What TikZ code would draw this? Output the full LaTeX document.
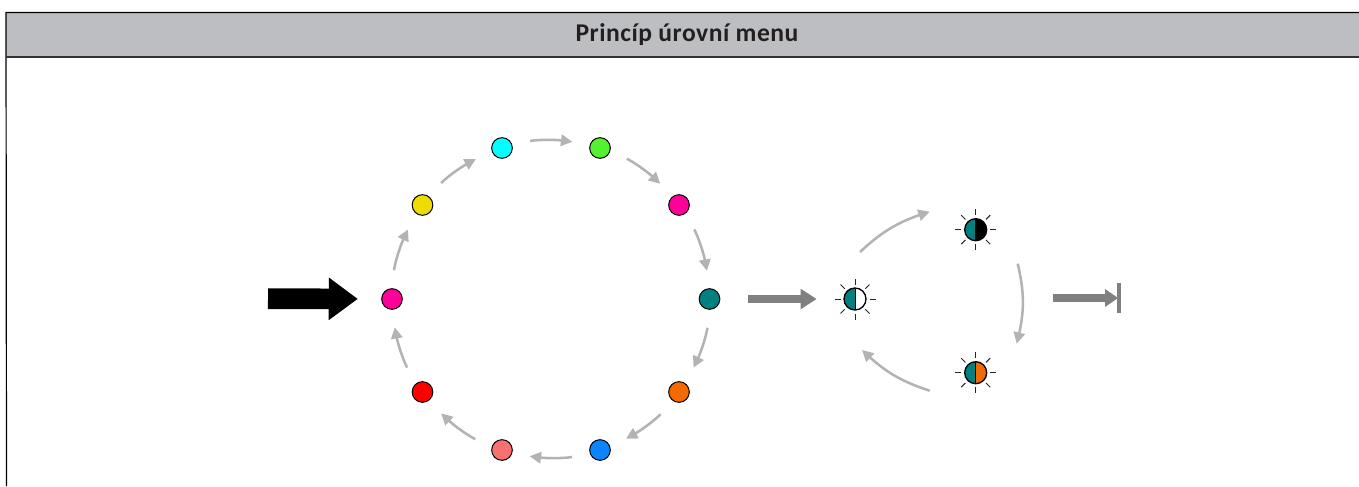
\documentclass[tikz,border=0pt]{standalone}
\usepackage{fontspec}
\setmainfont{Carlito}
\usetikzlibrary{arrows.meta,calc,bending}
\definecolor{bandgray}{HTML}{BDBEC1}
\definecolor{titleink}{HTML}{231F20}
\definecolor{flowgray}{HTML}{B3B3B3}
\definecolor{stepgray}{HTML}{808080}
\definecolor{hotpink}{HTML}{FF0099}
\definecolor{signyellow}{HTML}{EEDC00}
\definecolor{brightcyan}{HTML}{00FFFF}
\definecolor{limegreen}{HTML}{55F02F}
\definecolor{darkteal}{HTML}{008080}
\definecolor{deeporange}{HTML}{F26A00}
\definecolor{skyblue}{HTML}{0A84FF}
\definecolor{salmonred}{HTML}{F87070}
\definecolor{purered}{HTML}{FF0000}
\tikzset{
  dot/.style={circle,draw=black,line width=0.75pt,fill=#1,minimum size=15.5pt,inner sep=0pt},
  lamp/.style 2 args={circle,draw=black,line width=1pt,minimum size=16.5pt,inner sep=0pt,
    path picture={
      \fill[#1] (path picture bounding box.south west) rectangle (path picture bounding box.north);
      \fill[#2] (path picture bounding box.south) rectangle (path picture bounding box.north east);
      \draw[black,line width=0.75pt] (path picture bounding box.south) -- (path picture bounding box.north);
    }},
  ray/.style={line width=0.75pt,black!85},
  flow/.style={draw=flowgray,line width=1.9pt,-{Stealth[inset=0pt,length=8.5pt,width=8.5pt,flex]}},
  ringflow/.style={flow,shorten <=13.5pt,shorten >=13.5pt,bend left=14,looseness=1},
  stepflow/.style={draw=stepgray,line width=5.8pt},
  titleband/.style={fill=bandgray,minimum width=1020pt,minimum height=33pt,inner sep=0pt,anchor=north west}
}
\begin{document}
\begin{tikzpicture}[x=0.75pt,y=0.75pt]
  \useasboundingbox (0,0) rectangle (1359,-486);
  % title
  \node[titleband] (band) at (6,-12.5) {};
  \node[text=titleink,font=\fontsize{19.2}{22}\selectfont\bfseries] (title) at (687,-34.5) {\addfontfeatures{LetterSpace=2}Princíp úrovní menu};
  \coordinate (frameend) at (6.5,-486);
  \draw[line width=0.9pt] (frameend) -- (band.north west) -- (band.north east);
  \draw[line width=1.3pt,black!80] (band.south west) -- (band.south east);

  % ring of colours
  \node[dot=hotpink] (ringA) at (392,-299) {};
  \node[dot=signyellow] (ringB) at (422.5,-205) {};
  \node[dot=brightcyan] (ringC) at (502,-148) {};
  \node[dot=limegreen] (ringD) at (600,-148) {};
  \node[dot=hotpink] (ringE) at (679,-205) {};
  \node[dot=darkteal] (ringF) at (709.5,-299) {};
  \node[dot=deeporange] (ringG) at (679,-392) {};
  \node[dot=skyblue] (ringH) at (600,-450) {};
  \node[dot=salmonred] (ringI) at (502,-450) {};
  \node[dot=purered] (ringJ) at (422.5,-392) {};

  \draw[ringflow] (ringA) to (ringB);
  \draw[ringflow] (ringB) to (ringC);
  \draw[ringflow] (ringC) to (ringD);
  \draw[ringflow] (ringD) to (ringE);
  \draw[ringflow] (ringE) to (ringF);
  \draw[ringflow] (ringF) to (ringG);
  \draw[ringflow] (ringG) to (ringH);
  \draw[ringflow] (ringH) to (ringI);
  \draw[ringflow] (ringI) to (ringJ);
  \draw[ringflow] (ringJ) to (ringA);

  % brightness levels
  \node[lamp={darkteal}{white}] (sunA) at (855,-299) {};
  \node[lamp={darkteal}{black}] (sunB) at (975.7,-229.7) {};
  \node[lamp={darkteal}{deeporange}] (sunC) at (975.7,-372.7) {};
  \foreach \sun in {sunA,sunB,sunC}
    \foreach \a in {0,45,...,315}
      \draw[ray] ($(\sun)+(\a:14.5)$) -- ($(\sun)+(\a:20.5)$);

  \draw[flow] ($(sunA)+(5,47)$) to[bend left=13] ($(sunB)+(-46,18)$);
  \draw[flow] ($(sunB)+(42,-34)$) to[bend left=14] ($(sunC)+(41,29)$);
  \draw[flow] ($(sunC)+(-46,-18)$) to[bend left=13] ($(sunA)+(7,-51)$);

  % big arrows
  \coordinate (entry) at (268,-298.7);
  \coordinate (stop) at (1053,-298);
  \draw[line width=15.5pt,-{Triangle[length=21.8pt,width=30.5pt]},shorten >=17.5pt] (entry) -- (ringA);
  \draw[stepflow,-{Triangle[length=12pt,width=14.5pt]},shorten <=21pt,shorten >=20pt] (ringF) -- (sunA);
  \draw[stepflow] (stop) -- ++(52,0) coordinate (stophead);
  \fill[stepgray] ($(stophead)+(0,9)$) -- ($(stophead)+(13,0)$) -- ($(stophead)+(0,-9)$) -- cycle;
  \draw[stepgray,line width=3pt] ($(stophead)+(14,15)$) -- ($(stophead)+(14,-15)$);
\end{tikzpicture}
\end{document}
